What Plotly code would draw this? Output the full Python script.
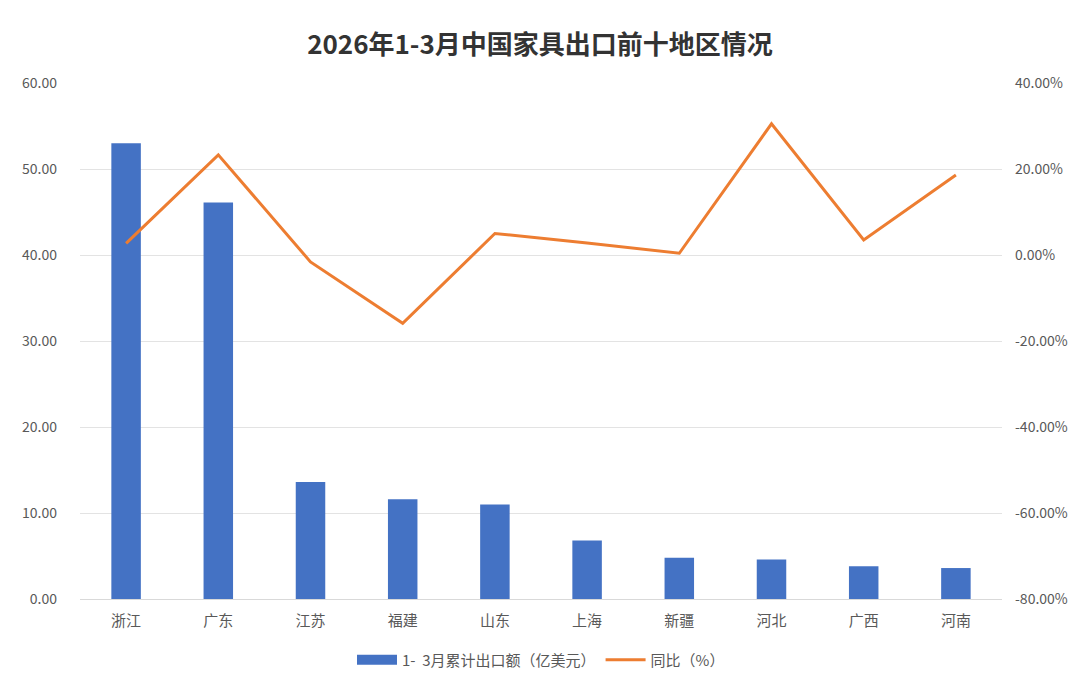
import plotly.graph_objects as go

categories = ["浙江", "广东", "江苏", "福建", "山东", "上海", "新疆", "河北", "广西", "河南"]
export_value = [53.0, 46.1, 13.6, 11.6, 11.0, 6.8, 4.8, 4.6, 3.8, 3.6]
yoy_pct = [2.7, 23.3, -1.6, -15.9, 5.0, 2.8, 0.4, 30.5, 3.5, 18.6]

left_ticks = [0, 10, 20, 30, 40, 50, 60]
right_ticks = [-80, -60, -40, -20, 0, 20, 40]

FONT = "Noto Sans CJK SC"
BAR_NAME = "1-  3月累计出口额（亿美元）"

fig = go.Figure()
fig.add_trace(go.Bar(
    x=categories, y=export_value, name=BAR_NAME,
    marker=dict(color="#4472C4", line=dict(width=0)),
    yaxis="y", showlegend=False, legendgroup="bar",
))
# legend-only entry drawn as a wide block, like the reference's legend key
fig.add_trace(go.Scatter(
    x=[None], y=[None], name=BAR_NAME, mode="lines",
    line=dict(color="#4472C4", width=10), legendgroup="bar",
))
fig.add_trace(go.Scatter(
    x=categories, y=yoy_pct, name="同比（%）", mode="lines",
    line=dict(color="#ED7D31", width=3),
    yaxis="y2",
))

fig.update_layout(
    width=1080, height=683,
    paper_bgcolor="white", plot_bgcolor="white",
    margin=dict(l=80, r=75, t=83, b=84),
    font=dict(family=FONT, size=14, color="#595959"),
    title=dict(text="<b>2026年1-3月中国家具出口前十地区情况</b>", x=0.5, xanchor="center",
               y=1 - 45 / 683, yanchor="middle",
               font=dict(family=FONT, size=26, color="#333333")),
    bargap=0.68,
    showlegend=True,
    legend=dict(orientation="h", x=0.5, xanchor="center",
                yref="container", y=(683 - 660) / 683, yanchor="middle",
                font=dict(size=15, color="#595959"), itemwidth=40),
    xaxis=dict(showgrid=False, showline=True, linecolor="#d9d9d9", linewidth=1,
               ticks="", tickfont=dict(size=15, color="#595959"), ticklabelstandoff=8),
    yaxis=dict(range=[0, 60], tickvals=left_ticks,
               ticktext=[f"{v:.2f}" for v in left_ticks],
               showgrid=True, gridcolor="#e3e3e3", gridwidth=1, zeroline=False,
               ticks="", tickfont=dict(size=14, color="#595959"), ticklabelstandoff=22),
    yaxis2=dict(range=[-80, 40], tickvals=right_ticks,
                ticktext=[f"{v:.2f}%" for v in right_ticks],
                overlaying="y", side="right", showgrid=False, zeroline=False,
                ticks="", tickfont=dict(size=14, color="#595959"), ticklabelstandoff=12),
)

fig.write_html("out.html")
